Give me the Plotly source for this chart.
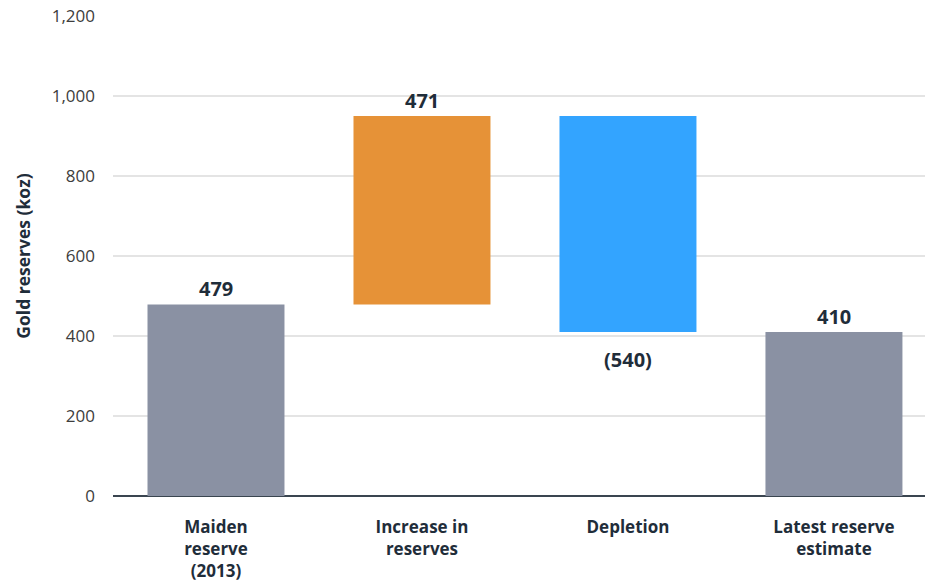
import plotly.graph_objects as go

categories = ["Maiden<br>reserve<br>(2013)", "Increase in<br>reserves", "Depletion", "Latest reserve<br>estimate"]
bases = [0, 479, 950, 0]
values = [479, 471, -540, 410]
labels = ["479", "471", "(540)", "410"]
colors = ["#8a91a3", "#e69237", "#33a4ff", "#8a91a3"]
y_ticks = [0, 200, 400, 600, 800, 1000, 1200]

fig = go.Figure()
fig.add_trace(go.Bar(
    x=categories, y=values, base=bases,
    marker=dict(color=colors, line=dict(width=0)),
    width=0.665,
    hoverinfo="skip",
))

for cat, b, v, t in zip(categories, bases, values, labels):
    fig.add_annotation(
        x=cat, y=b + v, text=f"<b>{t}</b>", showarrow=False,
        yanchor="bottom" if v > 0 else "top",
        yshift=0 if v > 0 else -12,
        font=dict(family="Open Sans", size=20, color="#1f2d3a"),
    )

fig.update_layout(
    width=925, height=585,
    margin=dict(l=113, r=0, t=16, b=89),
    plot_bgcolor="white", paper_bgcolor="white",
    showlegend=False,
    font=dict(family="Open Sans", color="#444"),
)
fig.update_xaxes(
    range=[-0.5, 3.442],
    tickfont=dict(family="Open Sans", size=17, color="#1f2d3a", weight="bold"),
    ticks="", ticklabelstandoff=19,
    showgrid=False, showline=False, zeroline=False,
)
fig.update_yaxes(
    range=[0, 1200], tickvals=y_ticks, tickformat=",",
    tickfont=dict(family="Open Sans", size=17, color="#3d3d3d"),
    ticklabelstandoff=17,
    showgrid=True, gridcolor="#e4e4e4", gridwidth=1.5,
    zeroline=True, zerolinecolor="#3a4550", zerolinewidth=2,
    title=dict(text="<b>Gold reserves (koz)</b>", font=dict(family="Open Sans", size=17.5, color="#1f2d3a"), standoff=16),
)

fig.write_html("out.html")
